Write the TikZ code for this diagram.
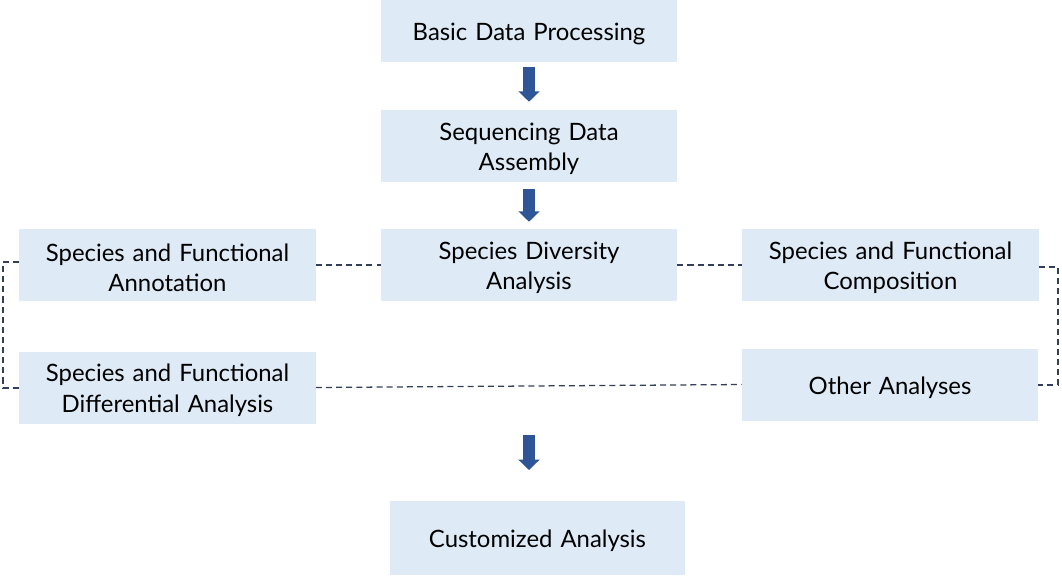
\documentclass[tikz,border=0pt]{standalone}
\usepackage{fontspec}
\setmainfont{Lato}
\usetikzlibrary{arrows.meta}
\definecolor{boxfill}{HTML}{DEEAF6}
\definecolor{arrowblue}{HTML}{2F5597}
\definecolor{dashgray}{HTML}{333F58}
\begin{document}
\begin{tikzpicture}[x=0.025cm,y=-0.025cm,
  stage/.style={fill=boxfill, draw=none, minimum width=7.4cm, minimum height=1.8cm, inner sep=0pt},
  stagetext/.style={align=center, font=\fontsize{17}{21.5}\selectfont, inner sep=0pt,
     text width=7.3cm, yshift=-0.07cm, label distance=0pt},
  flowarrow/.style={arrowblue, line width=0.3cm, -{Triangle[width=0.52cm,length=0.26cm]}},
  link/.style={dashgray, line width=0.9pt, dash pattern=on 4.3pt off 2.9pt}
]
\useasboundingbox (0,0) rectangle (1062,575);
\node[stage, minimum height=1.55cm, label={[stagetext]center:Basic Data Processing}] (basic) at (529,31) {};
\node[stage, label={[stagetext]center:{Sequencing Data\\Assembly}}] (seq) at (529,146) {};
\node[stage, label={[stagetext]center:{Species Diversity\\Analysis}}] (div) at (529,265) {};
\node[stage, label={[stagetext]center:{Species and Functional\\Annotation}}] (ann) at (167.5,265) {};
\node[stage, label={[stagetext]center:{Species and Functional\\Composition}}] (comp) at (890.5,265) {};
\node[stage, label={[stagetext]center:{Species and Functional\\Differential Analysis}}] (diff) at (167.5,387.5) {};
\node[stage, label={[stagetext]center:Other Analyses}] (other) at (890,384.5) {};
\node[stage, minimum width=7.375cm, minimum height=1.85cm, label={[stagetext]center:Customized Analysis}] (cust) at (537.5,538) {};

\coordinate (a3s) at (529,435);
\coordinate (a3e) at (529,470);
\coordinate (lt) at (3,262);
\coordinate (lb) at (3,388);
\coordinate (rt) at (1058,267);
\coordinate (rb) at (1058,385);

\draw[flowarrow, shorten <=0.125cm, shorten >=0.2cm] (basic.south) -- (seq.north);
\draw[flowarrow, shorten <=0.175cm, shorten >=0.175cm] (seq.south) -- (div.north);
\draw[flowarrow] (a3s) -- (a3e);

\draw[link] (ann.east) -- (div.west);
\draw[link] (div.east) -- (comp.west);
\draw[link] (diff.east) -- (other.west);
\draw[link] (ann.west |- lt) -- (lt) -- (lb) -- (diff.west |- lb);
\draw[link] (comp.east |- rt) -- (rt) -- (rb) -- (other.east |- rb);
\end{tikzpicture}
\end{document}
